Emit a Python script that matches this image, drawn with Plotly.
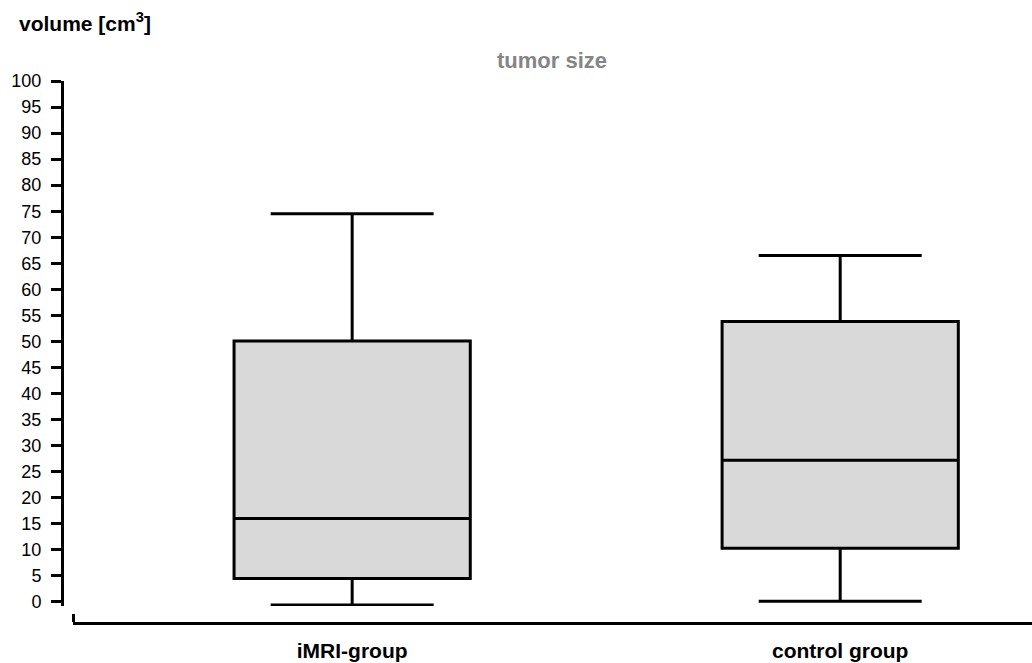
import plotly.graph_objects as go

groups = ["iMRI-group", "control group"]
group_pos = [0, 1]
lower_whisker = [-0.6, 0.1]
q1 = [4.5, 10.3]
median = [16.0, 27.2]
q3 = [50.1, 53.8]
upper_whisker = [74.5, 66.5]
y_ticks = list(range(0, 101, 5))

fig = go.Figure()
fig.add_trace(go.Box(
    x=group_pos,
    q1=q1, median=median, q3=q3,
    lowerfence=lower_whisker, upperfence=upper_whisker,
    width=0.484, whiskerwidth=0.69,
    fillcolor="#d9d9d9",
    line=dict(color="black", width=3),
    boxpoints=False, showlegend=False, hoverinfo="skip",
))

font_family = "Liberation Sans, Arial, sans-serif"

fig.update_layout(
    width=1032, height=663,
    margin=dict(l=62, r=0, t=81, b=40),
    paper_bgcolor="white", plot_bgcolor="white",
    font=dict(family=font_family, color="black"),
    title=dict(text="<b>tumor size</b>", x=552 / 1032, xanchor="center",
               y=1 - 60 / 663, yanchor="middle",
               font=dict(size=22, color="#858585", family=font_family)),
    xaxis=dict(
        domain=[11 / 970, 1], anchor="free", position=0,
        range=[-0.572, 1.393],
        showgrid=False, zeroline=False,
        showline=True, linecolor="black", linewidth=3,
        tickmode="array", tickvals=group_pos, ticktext=groups,
        ticks="", ticklabelstandoff=8,
        tickfont=dict(size=21, weight="bold", color="black"),
        minor=dict(tickmode="array", tickvals=[-0.572], ticks="inside",
                   ticklen=8, tickwidth=3, tickcolor="black", showgrid=False),
    ),
    yaxis=dict(
        domain=[17 / 542, 1], anchor="free", position=0,
        range=[-0.8, 100],
        showgrid=False, zeroline=False,
        showline=True, linecolor="black", linewidth=3,
        tickmode="array", tickvals=y_ticks,
        ticks="outside", ticklen=10, tickwidth=3, tickcolor="black",
        ticklabelstandoff=6,
        tickfont=dict(size=18, color="black"),
    ),
    annotations=[dict(
        text="<b>volume [cm<sup>3</sup>]</b>", xref="paper", yref="paper",
        x=-45 / 970, y=(623 - 22) / 542, xanchor="left", yanchor="middle",
        showarrow=False, font=dict(size=21, color="black", family=font_family),
    )],
)

fig.write_html(
    "out.html",
    config={"displayModeBar": False},
    post_script="document.body.style.margin='0';"
                "document.documentElement.style.overflow='hidden';"
                "document.body.style.overflow='hidden';",
)
